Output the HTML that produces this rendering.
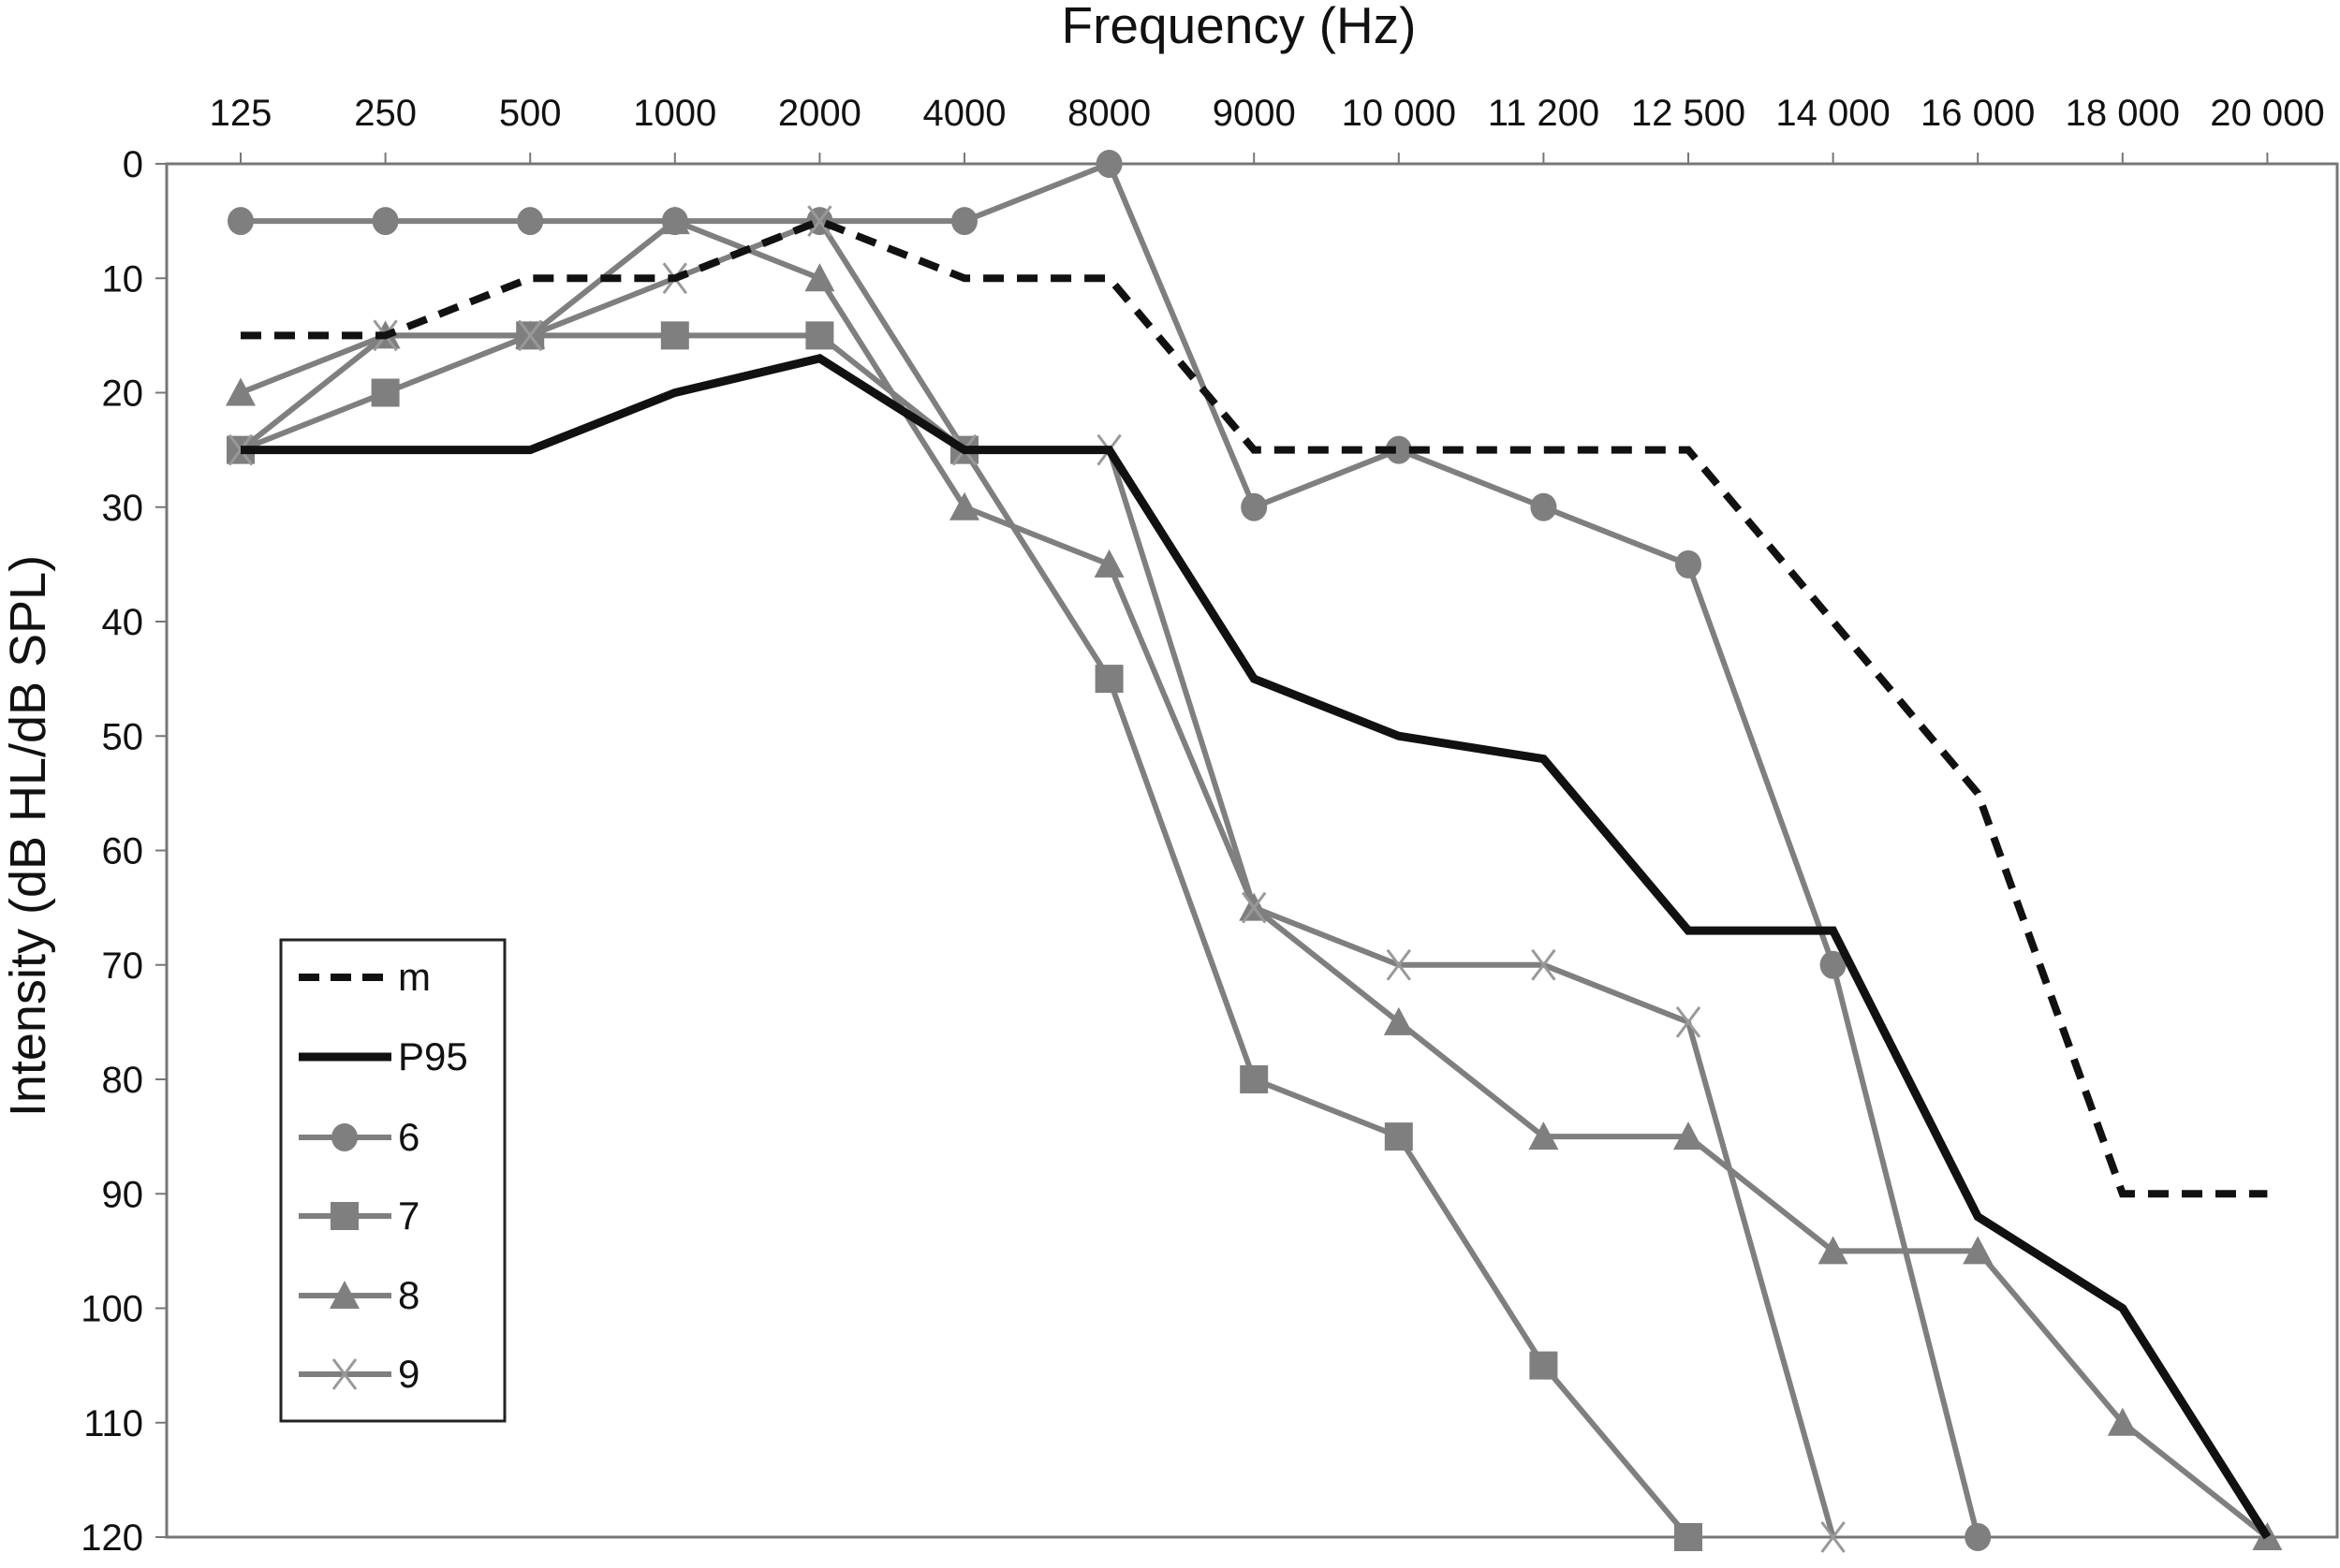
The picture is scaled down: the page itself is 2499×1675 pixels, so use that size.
<!DOCTYPE html>
<html><head><meta charset="utf-8"><style>
html,body{margin:0;padding:0;background:#fff;}
svg{display:block;font-family:"Liberation Sans",Arial,sans-serif;}
</style></head><body>
<svg id="chart" width="2499" height="1675" viewBox="0 0 2499 1675">
<text x="1323" y="46" font-size="55" text-anchor="middle" fill="#111">Frequency (Hz)</text>
<text transform="translate(48,893) rotate(-90)" font-size="54" text-anchor="middle" fill="#111">Intensity (dB HL/dB SPL)</text>
<rect x="178" y="175" width="2318" height="1467" fill="none" stroke="#777" stroke-width="3"/>
<g id="axes"></g>
<g id="series"></g>
<g>
<rect x="300" y="1004" width="239" height="514" fill="#fff" stroke="#222" stroke-width="3"/>
<g id="legend"></g>
</g>
</svg>
<script>
const categories=["125","250","500","1000","2000","4000","8000","9000","10 000","11 200","12 500","14 000","16 000","18 000","20 000"];
const yTicks=[0,10,20,30,40,50,60,70,80,90,100,110,120];
const mVals=[15,15,10,10,5,10,10,25,25,25,25,40,55,90,90];
const p95Vals=[25,25,25,20,17,25,25,45,50,52,67,67,92,100,120];
const s6Vals=[5,5,5,5,5,5,0,30,25,30,35,70,120];
const s7Vals=[25,20,15,15,15,25,45,80,85,105,120];
const s8Vals=[20,15,15,5,10,30,35,65,75,85,85,95,95,110,120];
const s9Vals=[25,15,15,10,5,25,25,65,70,70,75,120];
const seriesNames=["m","P95","6","7","8","9"];

const NS="http://www.w3.org/2000/svg";
const X0=257,DX=154.6,Y0=175,Y1=1642,YMAX=120;
const xs=i=>X0+i*DX;
const ys=v=>Y0+(v/YMAX)*(Y1-Y0);
function mk(tag,attrs,parent){const e=document.createElementNS(NS,tag);for(const k in attrs)e.setAttribute(k,attrs[k]);parent.appendChild(e);return e;}
const axes=document.getElementById('axes');
categories.forEach((c,i)=>{
  const t=mk('text',{x:xs(i),y:134,'font-size':40,'text-anchor':'middle',fill:'#111'},axes);
  t.textContent=c;
  
  
  const l=mk('line',{x1:xs(i),x2:xs(i),y1:175,y2:163,stroke:'#777','stroke-width':2},axes);
  
  
});
yTicks.forEach(v=>{
  const t=mk('text',{x:153,y:ys(v)+14,'font-size':40,'text-anchor':'end',fill:'#111'},axes);
  t.textContent=v;
  
  
  const l=mk('line',{x1:166,x2:178,y1:ys(v),y2:ys(v),stroke:'#777','stroke-width':2},axes);
  
  
});
const G='#7f7f7f';
function marker(type,x,y,g){
  let e;
  if(type==='circle'){e=mk('ellipse',{cx:x,cy:y,rx:14,ry:15,fill:G},g);}
  else if(type==='square'){e=mk('rect',{x:x-15,y:y-15,width:30,height:30,fill:G},g);}
  else if(type==='triangle'){e=mk('polygon',{points:`${x},${y-16} ${x-16},${y+14} ${x+16},${y+14}`,fill:G},g);}
  else if(type==='x'){e=mk('path',{d:`M${x-12},${y-16}L${x+12},${y+16}M${x+12},${y-16}L${x-12},${y+16}`,stroke:'#999','stroke-width':3,fill:'none'},g);}
  
  
}
const defs=[
  {vals:mVals,color:'#111',w:8,dash:'22 14',m:null,name:'series-m'},
  {vals:p95Vals,color:'#111',w:9,dash:null,m:null,name:'series-p95'},
  {vals:s6Vals,color:G,w:6,dash:null,m:'circle',name:'series-6'},
  {vals:s7Vals,color:G,w:6,dash:null,m:'square',name:'series-7'},
  {vals:s8Vals,color:G,w:6,dash:null,m:'triangle',name:'series-8'},
  {vals:s9Vals,color:G,w:6,dash:null,m:'x',name:'series-9'}
];
const sg=document.getElementById('series');
const order=[2,3,4,5,0,1];
order.forEach(k=>{
  const d=defs[k];
  const g=mk('g',{},sg);
  
  
  const pts=d.vals.map((v,i)=>xs(i)+','+ys(v)).join(' ');
  const a={points:pts,fill:'none',stroke:d.color,'stroke-width':d.w,'stroke-linejoin':'miter'};
  if(d.dash)a['stroke-dasharray']=d.dash;
  const pl=mk('polyline',a,g);
  
  
  if(d.m)d.vals.forEach((v,i)=>marker(d.m,xs(i),ys(v),g));
});
const lg=document.getElementById('legend');
const ly=[1044,1129,1215,1299,1384,1468];
defs.forEach((d,i)=>{
  const g=mk('g',{},lg);
  
  
  const a={x1:319,x2:418,y1:ly[i],y2:ly[i],stroke:d.color,'stroke-width':d.w};
  if(d.dash)a['stroke-dasharray']='22 12';
  mk('line',a,g);
  if(d.m)marker(d.m,368,ly[i],g);
  const t=mk('text',{x:425,y:ly[i]+14,'font-size':42,fill:'#111'},g);
  t.textContent=seriesNames[i];
});
</script>
</body></html>
